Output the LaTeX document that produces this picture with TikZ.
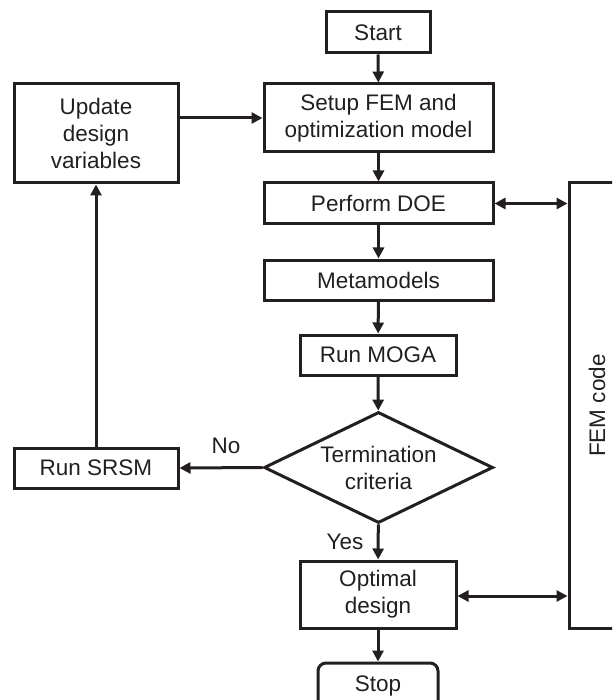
\documentclass[tikz,border=0pt]{standalone}
\usepackage{fontspec}
\setmainfont{Liberation Sans}
\usetikzlibrary{arrows.meta,positioning,calc,shapes.geometric}
\definecolor{ink}{HTML}{231F20}

\begin{document}
\begin{tikzpicture}[
		x=1pt, y=-1pt,
		>={Triangle[length=11pt,width=11pt]},
		every node/.style={font=\fontsize{22.5}{27}\selectfont, text=ink},
		box/.style={draw=ink, line width=3pt, align=center, inner sep=0pt},
		decision/.style={draw=ink, line width=3pt, diamond, aspect=2.06, align=center, inner sep=0pt, minimum width=229pt, minimum height=111pt},
		link/.style={draw=ink, line width=3pt, ->}
		]
		
		\clip (0,0) rectangle (612,700);
		
		% --------------------------------------------------
		% Main column
		% --------------------------------------------------
		\node[box, minimum width=104pt, minimum height=41pt] (start) at (378,32.5) {Start};
		\node[box, minimum width=229pt, minimum height=68pt] (setup) at (378.5,118) {Setup FEM and\\optimization model};
		\node[box, minimum width=229pt, minimum height=41pt] (doe) at (378.5,203.5) {Perform DOE};
		\node[box, minimum width=229pt, minimum height=40pt] (meta) at (378.5,280) {Metamodels};
		\node[box, minimum width=156pt, minimum height=40pt] (moga) at (378,355) {Run MOGA};
		\node[decision] (term) at (378.5,467.5) {Termination\\criteria};
		\node[box, minimum width=156pt, minimum height=67pt] (optimal) at (378,594.5) {Optimal\\design};
		\node[box, rounded corners=8pt, minimum width=120pt, minimum height=46pt] (stop) at (378,686) {Stop};
		
		% --------------------------------------------------
		% Left loop
		% --------------------------------------------------
		\node[box, minimum width=164pt, minimum height=99pt] (update) at (96,133.5) {Update\\design\\variables};
		\node[box, minimum width=164pt, minimum height=40pt] (srsm) at (96,468) {Run SRSM};
		
		% --------------------------------------------------
		% FEM code column
		% --------------------------------------------------
		\node[box, rotate=90, minimum width=445pt, minimum height=56pt] (fem) at (597,405.5) {FEM code};
		
		% --------------------------------------------------
		% Connecting arrows
		% --------------------------------------------------
		\draw[link] (start) -- (setup);
		\draw[link] (setup) -- (doe);
		\draw[link] (doe) -- (meta);
		\draw[link] (meta) -- (moga);
		\draw[link] (moga) -- (term);
		\draw[link] (term) -- node[left=10pt] {Yes} (optimal);
		\draw[link] (optimal) -- (stop);
		
		\draw[link] (term.west) -- node[above=9pt, xshift=5pt] {No} (srsm.east);
		\draw[link] (srsm) -- (update);
		\draw[link] (update.east |- setup) -- (setup.west);
		
		\draw[link, <->] (doe.east) -- (doe.east -| fem.north);
		\draw[link, <->] ($(optimal.east)+(0,1.5)$) -- ($(optimal.east -| fem.north)+(0,1.5)$);
		
	\end{tikzpicture}
\end{document}
